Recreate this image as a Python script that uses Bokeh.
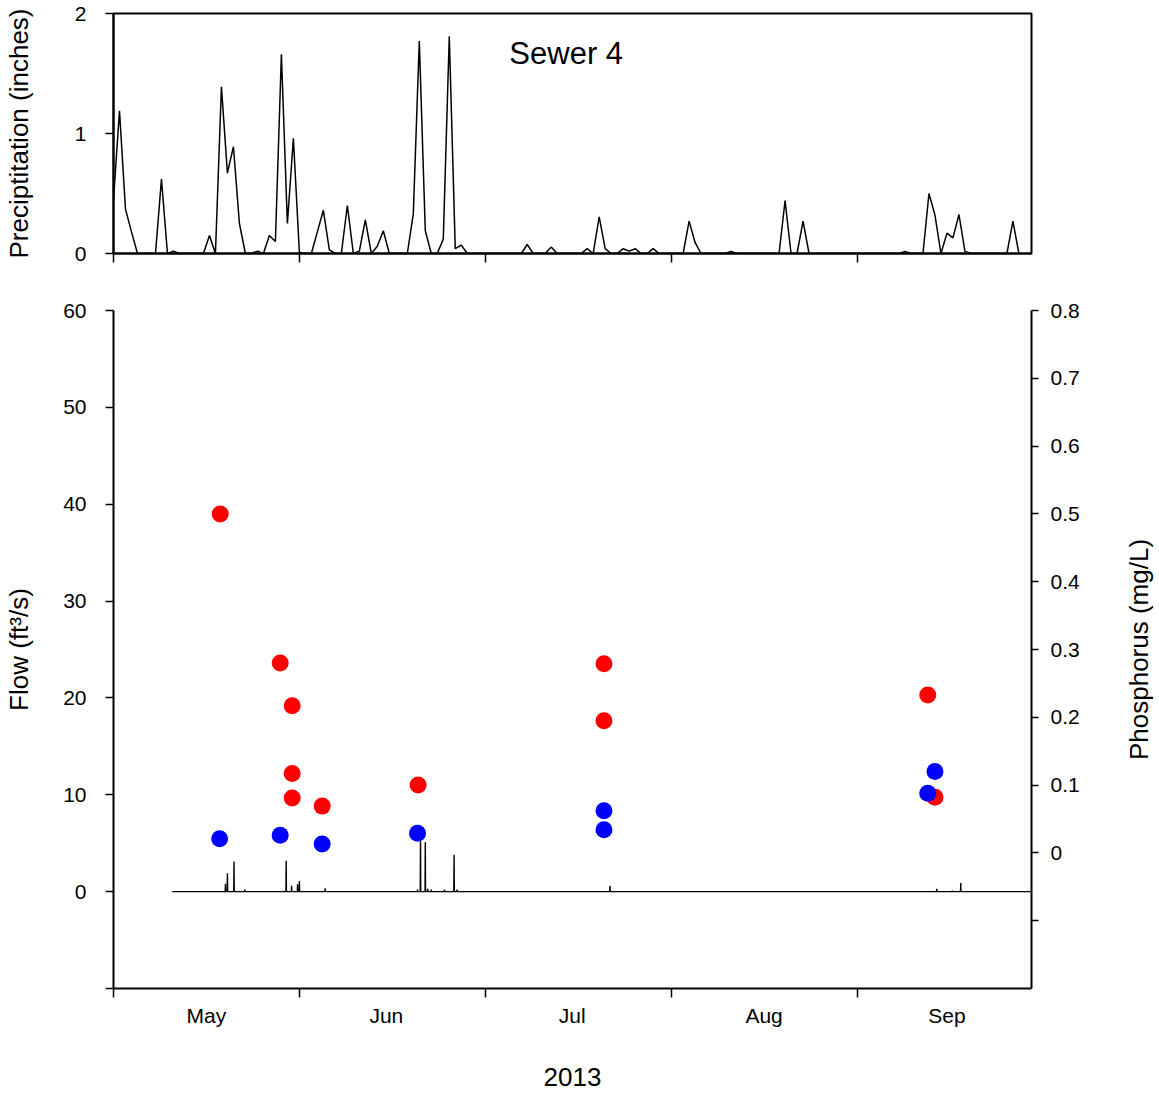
import math
from bokeh.plotting import figure
from bokeh.models import Range1d, LinearAxis, FixedTicker, Label
from bokeh.layouts import column, row
from bokeh.embed import file_html
from bokeh.resources import INLINE

# ---------------- data (x = days since 1 May 2013) ----------------
X_END = 153.1
month_edges = [0, 31, 62, 93, 124]
month_mid = [15.5, 45.5, 76.5, 108.5, 139.0]
month_names = ["May", "Jun", "Jul", "Aug", "Sep"]

# daily precipitation (inches), day 0 .. 151
precip_day = list(range(152))
precip_in = [
    0.45, 1.19, 0.37, 0.18, 0, 0, 0, 0, 0.62, 0,
    0.02, 0, 0, 0, 0, 0, 0.15, 0, 1.39, 0.67,
    0.89, 0.25, 0, 0, 0.02, 0, 0.15, 0.10, 1.66, 0.25,
    0.96, 0.01, 0, 0, 0.18, 0.36, 0.03, 0, 0, 0.40,
    0, 0.02, 0.28, 0, 0.06, 0.19, 0, 0, 0, 0,
    0.33, 1.77, 0.19, 0, 0, 0.12, 1.81, 0.04, 0.07, 0,
    0, 0, 0, 0, 0, 0, 0, 0, 0, 0.075,
    0, 0, 0, 0.055, 0, 0, 0, 0, 0, 0.04,
    0, 0.305, 0.04, 0, 0, 0.04, 0.02, 0.04, 0, 0,
    0.04, 0, 0, 0, 0, 0, 0.27, 0.09, 0, 0,
    0, 0, 0, 0.017, 0, 0, 0, 0, 0, 0,
    0, 0, 0.44, 0, 0, 0.27, 0, 0, 0, 0,
    0, 0, 0, 0, 0, 0, 0, 0, 0, 0,
    0, 0, 0.017, 0, 0, 0, 0.5, 0.32, 0, 0.17,
    0.13, 0.325, 0.017, 0, 0, 0, 0, 0, 0, 0,
    0.27, 0,
]

# flow record (ft3/s): baseline 0 with short spikes
flow_start_day = 9.8
flow_end_day = 153.1
flow_spike_day = [18.67, 19.0, 20.1, 21.9, 28.8, 29.7, 30.7, 31.0, 35.3,
                  50.7, 51.2, 52.0, 52.4, 53.0, 55.2, 56.8, 57.3, 82.8,
                  137.3, 139.9, 141.3]
flow_spike_cfs = [0.8, 1.9, 3.1, 0.2, 3.2, 0.6, 0.75, 1.1, 0.35,
                  0.2, 5.5, 5.1, 0.3, 0.2, 0.2, 3.8, 0.2, 0.6,
                  0.3, 0.1, 0.9]

# phosphorus (mg/L)
tp_day = [17.8, 27.8, 29.8, 29.8, 29.8, 34.8, 50.8, 81.8, 81.8, 135.8, 137.0]
tp_mgl = [0.50, 0.28, 0.217, 0.117, 0.081, 0.069, 0.100, 0.279, 0.195, 0.233, 0.082]
dp_day = [17.7, 27.8, 34.8, 50.7, 81.8, 81.8, 135.8, 137.0]
dp_mgl = [0.021, 0.026, 0.013, 0.029, 0.062, 0.034, 0.088, 0.120]

precip_ticks = [0, 1, 2]
flow_ticks = [-10, 0, 10, 20, 30, 40, 50, 60]
flow_tick_labels = ["", "0", "10", "20", "30", "40", "50", "60"]
p_ticks = [-0.1, 0.0, 0.1, 0.2, 0.3, 0.4, 0.5, 0.6, 0.7, 0.8]
p_tick_labels = ["", "0", "0.1", "0.2", "0.3", "0.4", "0.5", "0.6", "0.7", "0.8"]

# ---------------- styling ----------------
FONT = "Liberation Sans"
TICK_FS = "21px"
LABEL_FS = "26px"
W = 1159
BL = 113          # left border
FRAME_W = 918
BR = W - BL - FRAME_W
EXTRA_W = 49      # strip holding the right-hand axis title
BOT_W = W - EXTRA_W


def style_axis(ax, tick_out=8):
    ax.axis_line_width = 2
    ax.axis_line_color = "black"
    ax.major_tick_line_width = 1.5
    ax.major_tick_line_color = "black"
    ax.major_tick_out = tick_out
    ax.major_tick_in = 0
    ax.minor_tick_line_color = None
    ax.major_label_text_font = FONT
    ax.major_label_text_font_size = TICK_FS
    ax.major_label_text_color = "black"
    ax.axis_label_text_font = FONT
    ax.axis_label_text_font_size = LABEL_FS
    ax.axis_label_text_font_style = "normal"
    ax.axis_label_text_color = "black"


x_range = Range1d(0, X_END)

# ---------------- top: precipitation ----------------
top = figure(width=W, height=287, x_range=x_range, y_range=Range1d(0, 2),
             output_backend="svg", toolbar_location=None,
             min_border_left=BL, min_border_right=BR,
             min_border_top=13, min_border_bottom=34)
top.grid.visible = False
top.outline_line_color = "black"
top.outline_line_width = 2
top.line(precip_day, precip_in, line_color="black", line_width=1.5)

tx = top.xaxis[0]
style_axis(tx)
tx.ticker = FixedTicker(ticks=[], minor_ticks=month_edges)
tx.minor_tick_line_color = "black"
tx.minor_tick_line_width = 1.5
tx.minor_tick_out = 9
tx.minor_tick_in = 0

ty = top.yaxis[0]
style_axis(ty)
ty.ticker = FixedTicker(ticks=precip_ticks)
ty.major_label_standoff = 19
ty.axis_label = "Preciptitation (inches)"
ty.axis_label_standoff = 38

top.add_layout(Label(x=75.5, y=1.667, text="Sewer 4", text_align="center",
                     text_baseline="alphabetic", text_font=FONT,
                     text_font_size="31px", text_color="black"))

# ---------------- bottom: flow + phosphorus ----------------
bot = figure(width=BOT_W, height=807, x_range=x_range, y_range=Range1d(-10, 60),
             output_backend="svg", toolbar_location=None,
             min_border_left=BL, min_border_right=BOT_W - BL - FRAME_W,
             min_border_top=23, min_border_bottom=106)
bot.extra_y_ranges = {"p": Range1d(-0.2, 0.8)}
bot.grid.visible = False
bot.outline_line_color = None

flow_x = [flow_start_day]
flow_y = [0]
for d, v in zip(flow_spike_day, flow_spike_cfs):
    flow_x += [d - 0.04, d, d + 0.04]
    flow_y += [0, v, 0]
flow_x.append(flow_end_day)
flow_y.append(0)
bot.line(flow_x, flow_y, line_color="black", line_width=1.4)

bot.scatter(tp_day, tp_mgl, y_range_name="p", size=17,
            fill_color="#ff0000", line_color=None)
bot.scatter(dp_day, dp_mgl, y_range_name="p", size=17,
            fill_color="#0000ff", line_color=None)

bx = bot.xaxis[0]
style_axis(bx)
bx.ticker = FixedTicker(ticks=month_mid, minor_ticks=month_edges)
bx.major_label_overrides = {m: n for m, n in zip(month_mid, month_names)}
bx.major_tick_line_color = None
bx.major_tick_out = 0
bx.minor_tick_line_color = "black"
bx.minor_tick_line_width = 1.5
bx.minor_tick_out = 9
bx.minor_tick_in = 0
bx.major_label_standoff = 6
bx.axis_label = "2013"
bx.axis_label_standoff = 38

by = bot.yaxis[0]
style_axis(by)
by.ticker = FixedTicker(ticks=flow_ticks)
by.major_label_overrides = {t: l for t, l in zip(flow_ticks, flow_tick_labels)}
by.major_label_standoff = 19
by.axis_label = "Flow (ft\u00b3/s)"
by.axis_label_standoff = 26

ry = LinearAxis(y_range_name="p")
style_axis(ry, tick_out=7)
ry.ticker = FixedTicker(ticks=p_ticks)
ry.major_label_overrides = {t: l for t, l in zip(p_ticks, p_tick_labels)}
ry.major_label_standoff = 12
bot.add_layout(ry, "right")

# ---------------- strip carrying the phosphorus axis title ----------------
strip = figure(width=EXTRA_W, height=807, x_range=Range1d(0, 1),
               y_range=Range1d(-0.2, 0.8),
               output_backend="svg", toolbar_location=None,
               min_border_left=45, min_border_right=0,
               min_border_top=23, min_border_bottom=106)
strip.grid.visible = False
strip.outline_line_color = None
strip.xaxis.visible = False
sy = strip.yaxis[0]
style_axis(sy)
sy.ticker = FixedTicker(ticks=[])
sy.axis_line_color = None
sy.major_tick_line_color = None
sy.major_label_standoff = 0
sy.axis_label = "Phosphorus (mg/L)"
sy.axis_label_standoff = 2

layout = column(top, row(bot, strip, spacing=0), spacing=0)
open("out.html", "w").write(file_html(layout, INLINE))
